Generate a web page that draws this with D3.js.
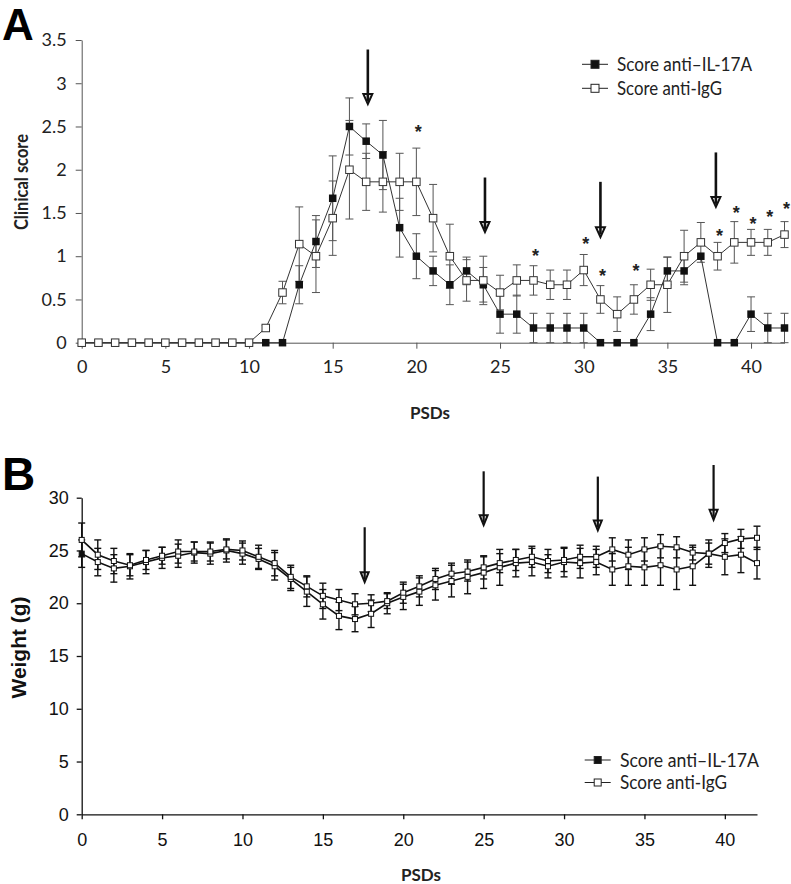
<!DOCTYPE html>
<html><head><meta charset="utf-8">
<script src="https://cdn.jsdelivr.net/npm/d3@7"></script>
<style>body{margin:0;background:#fff}svg{display:block}</style>
</head><body>
<script>
// ---------- DATA ----------
const days = d3.range(0, 43);
// Panel A: clinical score
const scoreIL17 = [0,0,0,0,0,0,0,0,0,0,0,0,0,0.67,1.17,1.67,2.5,2.33,2.17,1.33,1.0,0.83,0.67,0.83,0.67,0.33,0.33,0.17,0.17,0.17,0.17,0,0,0,0.33,0.83,0.83,1.0,0,0,0.33,0.17,0.17];
const errIL17   = [0,0,0,0,0,0,0,0,0,0,0,0,0,0.22,0.3,0.49,0.33,0.2,0.4,0.34,0.26,0.17,0.23,0.16,0.2,0.22,0.22,0.17,0.17,0.17,0.17,0,0,0,0.19,0.16,0.16,0,0,0,0.2,0.17,0.17];
const scoreIgG  = [0,0,0,0,0,0,0,0,0,0,0,0.17,0.58,1.14,1.0,1.44,2.0,1.86,1.86,1.86,1.86,1.44,1.0,0.72,0.72,0.58,0.72,0.72,0.67,0.67,0.84,0.5,0.33,0.5,0.67,0.67,1.0,1.16,1.0,1.16,1.16,1.16,1.25];
const errIgG    = [0,0,0,0,0,0,0,0,0,0,0,0.03,0.13,0.43,0.42,0.43,0.57,0.33,0.35,0.33,0.39,0.39,0.37,0.24,0.28,0.2,0.18,0.17,0.17,0.17,0.18,0.16,0.2,0.17,0.18,0.32,0.3,0.23,0.16,0.24,0.15,0.15,0.15];
const starDays  = [20,27,30,31,33,38,39,40,41,42];
const starVals  = [2.48,1.05,1.19,0.82,0.88,1.28,1.55,1.42,1.5,1.59];
const arrowDaysA = [17.1,24.1,31.0,37.9];
const arrowTopA  = [3.39,1.91,1.86,2.2];
const arrowTipA  = [2.76,1.28,1.22,1.57];
const ticksA_x = [0,5,10,15,20,25,30,35,40];
const ticksA_y = [0,0.5,1,1.5,2,2.5,3,3.5];
// Panel B: weight
const weightIL17 = [24.7,23.9,23.3,23.5,23.9,24.3,24.5,24.8,24.7,25.0,24.7,24.2,23.5,22.3,21.1,19.9,18.8,18.5,19.0,20.0,20.6,21.1,21.7,22.1,22.5,22.9,23.4,23.8,23.9,23.5,23.9,23.8,23.9,23.2,23.5,23.4,23.6,23.2,23.5,24.7,24.4,24.6,23.8];
const errWIL17   = [1.3,1.3,1.3,1.2,1.1,1.0,1.1,1.0,1.0,1.1,1.0,1.0,1.3,1.1,1.4,1.4,1.3,1.2,1.3,1.0,1.2,1.3,1.4,1.5,1.6,1.5,1.7,1.3,1.3,1.1,1.4,1.4,1.2,1.5,1.8,1.7,1.9,1.9,1.8,1.3,1.7,1.7,1.5];
const weightIgG  = [26.0,24.6,24.0,23.6,24.1,24.5,24.9,24.9,24.9,25.1,25.0,24.4,23.8,22.5,21.6,20.7,20.3,19.9,20.0,20.2,21.0,21.6,22.3,22.8,23.0,23.4,23.8,24.1,24.4,24.0,24.1,24.4,24.4,25.1,24.6,25.1,25.4,25.3,24.8,24.7,25.7,26.1,26.2];
const errWIgG    = [1.6,1.4,1.2,1.0,0.9,0.8,1.1,0.9,0.9,0.9,0.9,1.1,1.2,1.1,1.0,1.2,1.0,1.0,0.8,0.7,1.0,1.0,1.0,1.0,0.9,1.1,0.9,1.0,1.0,1.1,1.1,1.1,1.0,1.1,1.4,1.1,1.1,1.0,0.7,1.0,0.9,0.9,1.1];
const arrowDaysB = [17.6,25.0,32.1,39.3];
const arrowTopB  = [27.2,32.5,32.0,33.1];
const arrowTipB  = [22.0,27.4,26.9,27.9];
const ticksB_x = [0,5,10,15,20,25,30,35,40];
const ticksB_y = [0,5,10,15,20,25,30];
const legendLabels = ["Score anti\u2013IL-17A","Score anti-IgG"];

// ---------- DRAW ----------
const svg = d3.select("body").append("svg").attr("width",791).attr("height",884);
const sans = "Lato, 'Open Sans', sans-serif";
const arial = "'Liberation Sans', Arial, sans-serif";

// ===== Panel A =====
const xA = d3.scaleLinear().domain([0,42]).range([81.7,784.5]);
const yA = d3.scaleLinear().domain([0,3.5]).range([342.7,40]);
const gA = svg.append("g");

gA.append("text").attr("x",2).attr("y",40).attr("font-family",arial).attr("font-weight","bold")
  .attr("font-size",44).text("A");

const axAx = gA.append("g").attr("transform",`translate(0,${yA(0)})`)
  .call(d3.axisBottom(xA).tickValues(ticksA_x).tickSize(6).tickSizeOuter(0).tickPadding(11.5));
const axAy = gA.append("g").attr("transform",`translate(${xA(0)},0)`)
  .call(d3.axisLeft(yA).tickValues(ticksA_y).tickSize(6).tickSizeOuter(0).tickPadding(9).tickFormat(d=>String(d)));
[axAx,axAy].forEach(a=>{
  a.selectAll("path,line").attr("stroke","#555").attr("stroke-width",1);
  a.selectAll("text").attr("font-family",sans).attr("font-size",18).attr("fill","#222");
});

gA.append("text").attr("transform","translate(28,182) rotate(-90)").attr("text-anchor","middle")
  .attr("font-family",sans).attr("font-weight","bold").attr("font-size",19).attr("fill","#222")
  .attr("textLength",96).attr("lengthAdjust","spacingAndGlyphs").text("Clinical score");
gA.append("text").attr("x",430).attr("y",419).attr("text-anchor","middle")
  .attr("font-family",sans).attr("font-weight","bold").attr("font-size",17).attr("fill","#222").text("PSDs");

function errBars(g, x, y, vals, errs, color, sw, cap){
  days.forEach((d,i)=>{
    if(errs[i] <= 0) return;
    const cx = x(d), y1 = y(vals[i]+errs[i]), y2 = y(vals[i]-errs[i]);
    g.append("line").attr("x1",cx).attr("x2",cx).attr("y1",y1).attr("y2",y2).attr("stroke",color).attr("stroke-width",sw);
    [y1,y2].forEach(yy=>g.append("line").attr("x1",cx-cap).attr("x2",cx+cap).attr("y1",yy).attr("y2",yy).attr("stroke",color).attr("stroke-width",sw));
  });
}
errBars(gA, xA, yA, scoreIgG, errIgG, "#555", 1, 4);
errBars(gA, xA, yA, scoreIL17, errIL17, "#555", 1, 4);

const lineA = (vals)=>d3.line().x((d,i)=>xA(days[i])).y((d)=>yA(d))(vals);
gA.append("path").attr("d",lineA(scoreIL17)).attr("fill","none").attr("stroke","#333").attr("stroke-width",1);
gA.append("path").attr("d",lineA(scoreIgG)).attr("fill","none").attr("stroke","#333").attr("stroke-width",1);

const mA = 7.5;
gA.selectAll(".mf").data(scoreIL17).enter().append("rect")
  .attr("x",(d,i)=>xA(days[i])-mA/2).attr("y",d=>yA(d)-mA/2).attr("width",mA).attr("height",mA).attr("fill","#111");
gA.selectAll(".mo").data(scoreIgG).enter().append("rect")
  .attr("x",(d,i)=>xA(days[i])-mA/2).attr("y",d=>yA(d)-mA/2).attr("width",mA).attr("height",mA)
  .attr("fill","#fff").attr("stroke","#333").attr("stroke-width",1);

starDays.forEach((d,i)=>{
  gA.append("text").attr("x",xA(d)+2).attr("y",yA(starVals[i])+10).attr("text-anchor","middle")
    .attr("font-family",arial).attr("font-weight","bold").attr("font-size",18).attr("fill","#222").text("*");
});

function arrow(g, x, yTop, yTip, sw, hw, hh){
  g.append("line").attr("x1",x).attr("x2",x).attr("y1",yTop).attr("y2",yTip-3).attr("stroke","#111").attr("stroke-width",sw);
  g.append("path").attr("d",`M${x-hw},${yTip-hh} L${x+hw},${yTip-hh} L${x},${yTip} Z`)
    .attr("fill","#fff").attr("stroke","#111").attr("stroke-width",2).attr("stroke-linejoin","miter");
  g.append("line").attr("x1",x).attr("x2",x).attr("y1",yTip-hh).attr("y2",yTip-3).attr("stroke","#111").attr("stroke-width",sw);
}
arrowDaysA.forEach((d,i)=>arrow(gA, xA(d), yA(arrowTopA[i]), yA(arrowTipA[i]), 2.6, 4.5, 10));

function legend(g, x0, y0, dy, msize, textX, fs, lens){
  legendLabels.forEach((lab,i)=>{
    const cy = y0 + i*dy;
    g.append("line").attr("x1",x0-13).attr("x2",x0+13).attr("y1",cy).attr("y2",cy).attr("stroke","#222").attr("stroke-width",1);
    g.append("rect").attr("x",x0-msize/2).attr("y",cy-msize/2).attr("width",msize).attr("height",msize)
      .attr("fill", i===0 ? "#111" : "#fff").attr("stroke","#222").attr("stroke-width",1);
    g.append("text").attr("x",textX).attr("y",cy+6.5).attr("font-family",sans).attr("font-size",fs).attr("fill","#222")
      .attr("textLength",lens[i]).attr("lengthAdjust","spacingAndGlyphs").text(lab);
  });
}
legend(gA, 595, 64.3, 24, 8, 617, 18.5, [135,105]);

// ===== Panel B =====
const xB = d3.scaleLinear().domain([0,42]).range([81.7,757]);
const yB = d3.scaleLinear().domain([0,30]).range([814.3,497.7]);
const gB = svg.append("g");

gB.append("text").attr("x",2).attr("y",490).attr("font-family",arial).attr("font-weight","bold")
  .attr("font-size",46).text("B");

const axBx = gB.append("g").attr("transform",`translate(0,${yB(0)})`)
  .call(d3.axisBottom(xB).tickValues(ticksB_x).tickSize(5).tickSizeOuter(0).tickPadding(13.5));
const axBy = gB.append("g").attr("transform",`translate(${xB(0)},0)`)
  .call(d3.axisLeft(yB).tickValues(ticksB_y).tickSize(5).tickSizeOuter(0).tickPadding(8));
[axBx,axBy].forEach(a=>{
  a.selectAll("path,line").attr("stroke","#111").attr("stroke-width",1.3);
  a.selectAll("text").attr("font-family",arial).attr("font-size",18).attr("fill","#111");
});

gB.append("text").attr("transform","translate(25.5,647.5) rotate(-90)").attr("text-anchor","middle")
  .attr("font-family",arial).attr("font-weight","bold").attr("font-size",20).attr("fill","#111")
  .attr("textLength",102).attr("lengthAdjust","spacingAndGlyphs").text("Weight (g)");
gB.append("text").attr("x",421).attr("y",881).attr("text-anchor","middle")
  .attr("font-family",sans).attr("font-weight","bold").attr("font-size",17).attr("fill","#222").text("PSDs");

errBars(gB, xB, yB, weightIgG, errWIgG, "#111", 1.4, 3.5);
errBars(gB, xB, yB, weightIL17, errWIL17, "#111", 1.4, 3.5);

const lineB = (vals)=>d3.line().x((d,i)=>xB(days[i])).y(d=>yB(d))(vals);
gB.append("path").attr("d",lineB(weightIL17)).attr("fill","none").attr("stroke","#111").attr("stroke-width",1.6);
gB.append("path").attr("d",lineB(weightIgG)).attr("fill","none").attr("stroke","#111").attr("stroke-width",1.6);

const mB = 5;
[weightIL17, weightIgG].forEach((vals,s)=>{
  gB.selectAll(".mb"+s).data(vals).enter().append("rect")
    .attr("x",(d,i)=>xB(days[i])-mB/2).attr("y",d=>yB(d)-mB/2).attr("width",mB).attr("height",mB)
    .attr("fill",(d,i)=> (s===0 && i===0) ? "#111" : "#fff").attr("stroke","#111").attr("stroke-width",1);
});

arrowDaysB.forEach((d,i)=>arrow(gB, xB(d), yB(arrowTopB[i]), yB(arrowTipB[i]), 2.2, 4, 10));

legend(gB, 597.7, 760, 22.5, 7, 620, 18.5, [139,107]);
</script>
</body></html>
